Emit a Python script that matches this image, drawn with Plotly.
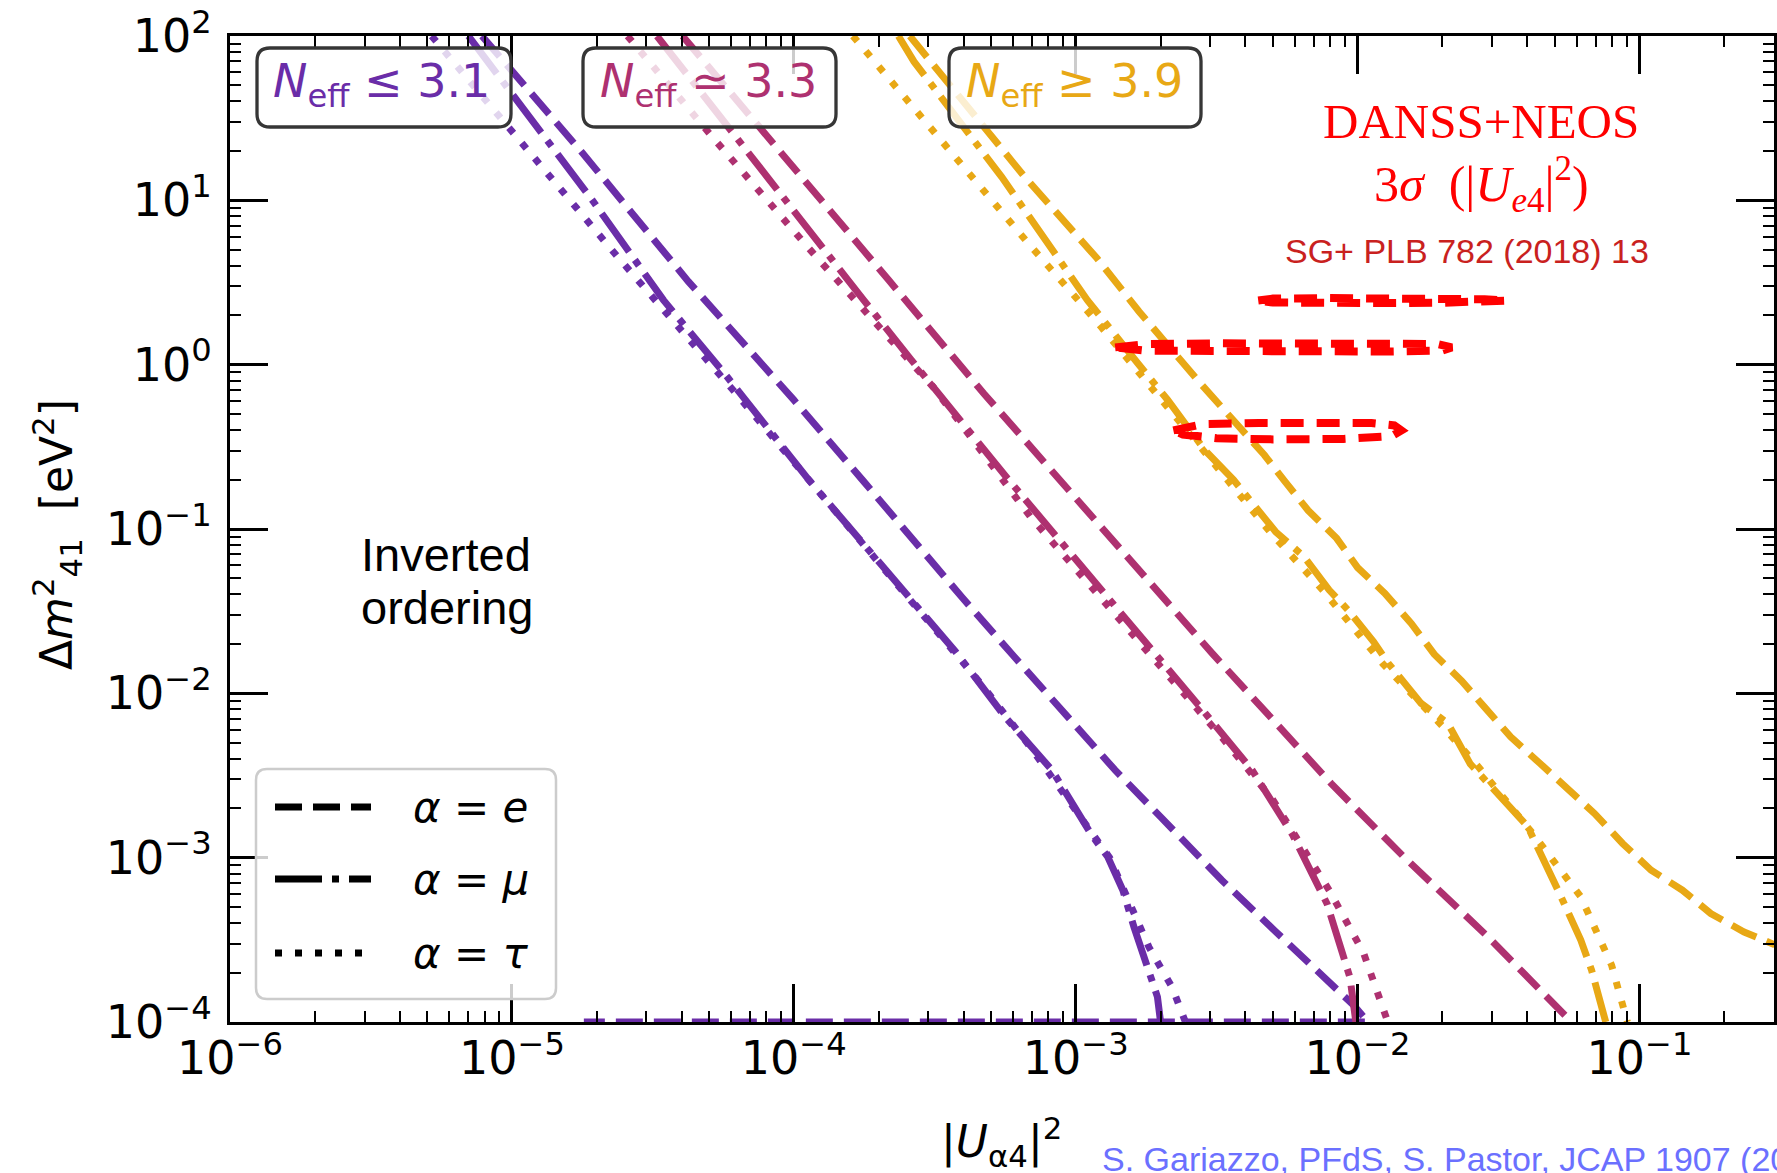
import math
import plotly.graph_objects as go

# ---------------- data ----------------
# x = |U_a4|^2 , y = Delta m^2_41 [eV^2]
purple_e_x = [7.83e-6, 1.78e-5, 4.23e-5, 1.00e-4, 1.76e-4, 2.64e-4, 3.95e-4, 5.98e-4, 9.06e-4,
              1.38e-3, 2.00e-3, 2.65e-3, 3.30e-3, 5.06e-3, 9.70e-3, 1.09e-2, 1.8e-5]
purple_e_y = [100, 19.4, 3.20, 0.610, 0.197, 8.57e-2, 3.84e-2, 1.71e-2, 7.55e-3,
              3.41e-3, 1.77e-3, 1.06e-3, 7.29e-4, 3.62e-4, 1.26e-4, 1.0e-4, 1.0e-4]
purple_mu_x = [7.01e-6, 1.93e-5, 3.45e-5, 5.81e-5, 1.13e-4, 1.67e-4, 2.50e-4, 3.75e-4, 5.62e-4,
               8.24e-4, 1.14e-3, 1.30e-3, 1.47e-3, 1.61e-3, 1.95e-3, 2.00e-3]
purple_mu_y = [100, 10.0, 2.47, 0.841, 0.199, 9.18e-2, 4.06e-2, 1.79e-2, 7.19e-3,
               3.41e-3, 1.37e-3, 1.01e-3, 6.34e-4, 3.78e-4, 1.42e-4, 1.0e-4]
purple_tau_x = [5.19e-6, 1.60e-5, 2.37e-5, 6.00e-5, 9.08e-5, 1.36e-4, 4.60e-4, 6.89e-4,
                1.32e-3, 1.82e-3, 2.20e-3, 2.45e-3]
purple_tau_y = [100, 10.0, 4.54, 0.721, 0.310, 0.136, 1.15e-2, 4.73e-3,
                1.0e-3, 2.85e-4, 1.62e-4, 1.0e-4]

crimson_e_x = [4.03e-5, 8.41e-5, 2.17e-4, 4.72e-4, 3.05e-3, 8.05e-3, 1.46e-2, 2.90e-2, 5.74e-2]
crimson_e_y = [100, 22.8, 3.27, 0.668, 1.75e-2, 2.83e-3, 1.01e-3, 3.30e-4, 1.0e-4]
crimson_mu_x = [3.27e-5, 7.74e-5, 1.77e-4, 2.61e-4, 5.73e-4, 2.82e-3, 4.23e-3, 5.89e-3,
                7.45e-3, 7.80e-3, 9.40e-3, 9.86e-3]
crimson_mu_y = [100, 14.9, 2.47, 1.07, 0.203, 7.91e-3, 3.40e-3, 1.37e-3,
                6.34e-4, 5.22e-4, 1.86e-4, 1.0e-4]
crimson_tau_x = [2.57e-5, 5.25e-5, 1.20e-4, 3.15e-4, 6.90e-4, 3.31e-3, 5.01e-3, 7.94e-3,
                 1.05e-2, 1.28e-2]
crimson_tau_y = [100, 23.3, 4.54, 0.718, 0.119, 5.37e-3, 2.24e-3, 6.31e-4, 2.63e-4, 1.0e-4]

gold_e_x = [2.58e-4, 6.59e-4, 1.19e-3, 1.68e-3, 2.77e-3, 4.03e-3, 4.67e-3, 5.53e-3, 6.67e-3,
            8.43e-3, 1.00e-2, 1.25e-2, 1.55e-2, 1.87e-2, 2.34e-2, 2.83e-2, 3.49e-2, 4.44e-2,
            5.56e-2, 6.92e-2, 8.71e-2, 0.110, 0.142, 0.179, 0.235, 0.302]
gold_e_y = [100, 13.9, 4.44, 2.10, 0.769, 0.382, 0.282, 0.194, 0.130,
            8.77e-2, 5.82e-2, 4.06e-2, 2.66e-2, 1.73e-2, 1.19e-2, 8.18e-3, 5.43e-3, 3.74e-3,
            2.58e-3, 1.86e-3, 1.22e-3, 8.39e-4, 6.34e-4, 4.57e-4, 3.53e-4, 2.95e-4]
gold_mu_x = [2.35e-4, 2.67e-4, 5.46e-4, 7.57e-4, 1.10e-3, 1.66e-3, 2.12e-3, 2.87e-3, 3.63e-3,
             5.12e-3, 6.46e-3, 7.93e-3, 9.25e-3, 1.14e-2, 1.29e-2, 1.68e-2, 2.09e-2, 2.51e-2,
             4.01e-2, 5.21e-2, 6.19e-2, 6.76e-2, 7.59e-2]
gold_mu_y = [100, 69.8, 13.9, 6.30, 2.47, 1.02, 0.610, 0.302, 0.199,
             9.62e-2, 6.78e-2, 4.25e-2, 3.21e-2, 2.06e-2, 1.51e-2, 8.69e-3, 6.56e-3, 3.72e-3,
             1.55e-3, 6.03e-4, 3.15e-4, 2.07e-4, 1.0e-4]
gold_tau_x = [1.62e-4, 3.02e-4, 5.46e-4, 6.79e-4, 1.02e-3, 1.23e-3, 2.77e-3, 4.90e-3, 7.59e-3,
              1.23e-2, 2.00e-2, 2.69e-2, 4.17e-2, 6.19e-2, 7.96e-2, 9.06e-2]
gold_tau_y = [100, 28.1, 8.34, 5.47, 2.47, 1.70, 0.316, 9.55e-2, 4.17e-2,
              1.51e-2, 6.31e-3, 3.55e-3, 1.41e-3, 5.78e-4, 2.22e-4, 1.0e-4]

# DANSS+NEOS 3 sigma islands
island1_x = [4.44e-3, 5.01e-3, 7.94e-3, 1.26e-2, 2.00e-2, 2.82e-2, 3.39e-2, 2.82e-2, 2.00e-2,
             1.26e-2, 7.94e-3, 5.01e-3, 4.44e-3]
island1_y = [2.455, 2.523, 2.541, 2.541, 2.529, 2.500, 2.455, 2.410, 2.382,
             2.371, 2.371, 2.388, 2.455]
island2_x = [1.38e-3, 1.78e-3, 3.16e-3, 6.31e-3, 1.26e-2, 1.91e-2, 2.16e-2, 2.00e-2, 1.26e-2,
             6.31e-3, 3.16e-3, 1.78e-3, 1.38e-3]
island2_y = [1.274, 1.334, 1.349, 1.355, 1.352, 1.337, 1.274, 1.219, 1.202,
             1.197, 1.199, 1.216, 1.274]
island3_x = [2.22e-3, 2.82e-3, 4.47e-3, 7.94e-3, 1.12e-2, 1.35e-2, 1.43e-2, 1.32e-2, 8.91e-3,
             5.01e-3, 3.16e-3, 2.40e-3, 2.22e-3]
island3_y = [0.398, 0.435, 0.442, 0.444, 0.441, 0.427, 0.398, 0.367, 0.353,
             0.351, 0.357, 0.376, 0.398]

# ticks
x_major = [1e-6, 1e-5, 1e-4, 1e-3, 1e-2, 1e-1]
x_labels = ["10<sup>\u22126</sup>", "10<sup>\u22125</sup>", "10<sup>\u22124</sup>",
            "10<sup>\u22123</sup>", "10<sup>\u22122</sup>", "10<sup>\u22121</sup>"]
y_major = [1e-4, 1e-3, 1e-2, 1e-1, 1e0, 1e1, 1e2]
y_labels = ["10<sup>\u22124</sup>", "10<sup>\u22123</sup>", "10<sup>\u22122</sup>",
            "10<sup>\u22121</sup>", "10<sup>0</sup>", "10<sup>1</sup>", "10<sup>2</sup>"]
x_minor = [k * 10.0 ** e for e in range(-6, 0) for k in range(2, 10)]
y_minor = [k * 10.0 ** e for e in range(-4, 2) for k in range(2, 10)]

# ---------------- styling ----------------
W, H = 1777, 1173
L, R, T, B = 230, 3, 36, 151
PW, PH = W - L - R, H - T - B

PURPLE = "#6a2da8"
CRIMSON = "#ae3170"
GOLD = "#e8a815"
RED = "#ff0000"
LW = 7
DASH = {"e": "27px,11px", "mu": "47px,10px,7px,10px", "tau": "7px,13px"}


def px(xp):
    return (xp - L) / PW


def py(yp):
    return (H - B - yp) / PH


def rrect(x0p, y0p, x1p, y1p, r):
    X0, X1 = px(x0p), px(x1p)
    Yt, Yb = py(y0p), py(y1p)
    rx, ry = r / PW, r / PH
    return (f"M {X0+rx} {Yt} L {X1-rx} {Yt} Q {X1} {Yt} {X1} {Yt-ry} "
            f"L {X1} {Yb+ry} Q {X1} {Yb} {X1-rx} {Yb} L {X0+rx} {Yb} "
            f"Q {X0} {Yb} {X0} {Yb+ry} L {X0} {Yt-ry} Q {X0} {Yt} {X0+rx} {Yt} Z")


fig = go.Figure()

curves = [
    (purple_e_x, purple_e_y, PURPLE, "e"), (purple_mu_x, purple_mu_y, PURPLE, "mu"),
    (purple_tau_x, purple_tau_y, PURPLE, "tau"),
    (crimson_e_x, crimson_e_y, CRIMSON, "e"), (crimson_mu_x, crimson_mu_y, CRIMSON, "mu"),
    (crimson_tau_x, crimson_tau_y, CRIMSON, "tau"),
    (gold_e_x, gold_e_y, GOLD, "e"), (gold_mu_x, gold_mu_y, GOLD, "mu"),
    (gold_tau_x, gold_tau_y, GOLD, "tau"),
]
for xs, ys, col, fl in curves:
    fig.add_trace(go.Scatter(x=xs, y=ys, mode="lines", showlegend=False, hoverinfo="skip",
                             line=dict(color=col, width=LW, dash=DASH[fl])))

for xs, ys in [(island1_x, island1_y), (island2_x, island2_y), (island3_x, island3_y)]:
    fig.add_trace(go.Scatter(x=xs, y=ys, mode="lines", showlegend=False, hoverinfo="skip",
                             line=dict(color=RED, width=8, dash="23px,13px")))

tickfont = dict(family="DejaVu Sans", size=46, color="black")
axis_common = dict(type="log", showline=True, linecolor="black", linewidth=3, mirror="allticks",
                   ticks="inside", ticklen=38, tickwidth=3, tickcolor="black",
                   tickmode="array", tickfont=tickfont, showgrid=False, zeroline=False,
                   automargin=False)

fig.update_layout(
    width=W, height=H, margin=dict(l=L, r=R, t=T, b=B),
    paper_bgcolor="white", plot_bgcolor="white", template="none", showlegend=False,
    xaxis=dict(range=[-6, math.log10(0.3)], tickvals=x_major, ticktext=x_labels,
               ticklabelstandoff=-6,
               minor=dict(tickmode="array", tickvals=x_minor, ticks="inside", ticklen=11,
                          tickwidth=2, tickcolor="black", showgrid=False),
               **axis_common),
    yaxis=dict(range=[-4, 2], tickvals=y_major, ticktext=y_labels, ticklabelstandoff=6,
               minor=dict(tickmode="array", tickvals=y_minor, ticks="inside", ticklen=11,
                          tickwidth=2, tickcolor="black", showgrid=False),
               **axis_common),
)

shapes = []
# N_eff boxes
for (x0, x1) in [(257, 511), (583, 836), (949, 1201)]:
    shapes.append(dict(type="path", xref="paper", yref="paper", layer="above",
                       path=rrect(x0, 48, x1, 127, 13),
                       fillcolor="rgba(255,255,255,0.8)",
                       line=dict(color="#363636", width=3.3)))
# legend box
shapes.append(dict(type="path", xref="paper", yref="paper", layer="above",
                   path=rrect(256, 769, 556, 999, 11),
                   fillcolor="rgba(255,255,255,0.8)",
                   line=dict(color="#cccccc", width=2.5)))
for yy, fl in [(807, "e"), (879, "mu"), (953, "tau")]:
    shapes.append(dict(type="line", xref="paper", yref="paper", layer="above",
                       x0=px(275), x1=px(371), y0=py(yy), y1=py(yy),
                       line=dict(color="black", width=LW, dash=DASH[fl])))
fig.update_layout(shapes=shapes)

ann = []


def add_text(text, xp, yp, size, color, family, xanchor="center", yanchor="middle", angle=0):
    ann.append(dict(text=text, x=px(xp), y=py(yp), xref="paper", yref="paper",
                    showarrow=False, xanchor=xanchor, yanchor=yanchor, textangle=angle,
                    font=dict(size=size, color=color, family=family)))


add_text("<i>N</i><sub>eff</sub> \u2264 3.1", 381, 84, 46, PURPLE, "DejaVu Sans")
add_text("<i>N</i><sub>eff</sub> \u2243 3.3", 708, 84, 46, CRIMSON, "DejaVu Sans")
add_text("<i>N</i><sub>eff</sub> \u2265 3.9", 1074, 84, 46, GOLD, "DejaVu Sans")

add_text("<i>\u03b1</i> = <i>e</i>", 411, 807, 42, "black", "DejaVu Sans", xanchor="left")
add_text("<i>\u03b1</i> = <i>\u03bc</i>", 411, 879, 42, "black", "DejaVu Sans", xanchor="left")
add_text("<i>\u03b1</i> = <i>\u03c4</i>", 411, 953, 42, "black", "DejaVu Sans", xanchor="left")

add_text("Inverted", 446, 554, 47, "black", "Liberation Sans")
add_text("ordering", 447, 607, 47, "black", "Liberation Sans")

add_text("DANSS+NEOS", 1481, 122, 49, RED, "Liberation Serif")
add_text("3<i>\u03c3</i>  (|<i>U</i><sub><i>e</i>4</sub>|<sup>2</sup>)", 1481, 184, 50, RED,
         "Liberation Serif")
add_text("SG+ PLB 782 (2018) 13", 1467, 251, 34, "#c9211e", "Liberation Sans")

add_text("S. Gariazzo, PFdS, S. Pastor, JCAP 1907 (2019) 014", 1100, 1159, 34, "#6b70ff",
         "Liberation Sans", xanchor="left")

add_text("|<i>U</i><sub>\u03b14</sub>|<sup>2</sup>", 1001, 1142, 44, "black", "DejaVu Sans")
add_text("\u0394<i>m</i><sup>2</sup><sub>41</sub>  [eV<sup>2</sup>]", 57, 535, 44, "black",
         "DejaVu Sans", angle=-90)

fig.update_layout(annotations=ann)

fig.write_html("out.html", config={"displayModeBar": False, "staticPlot": True},
               post_script="document.body.style.margin='0px';")
